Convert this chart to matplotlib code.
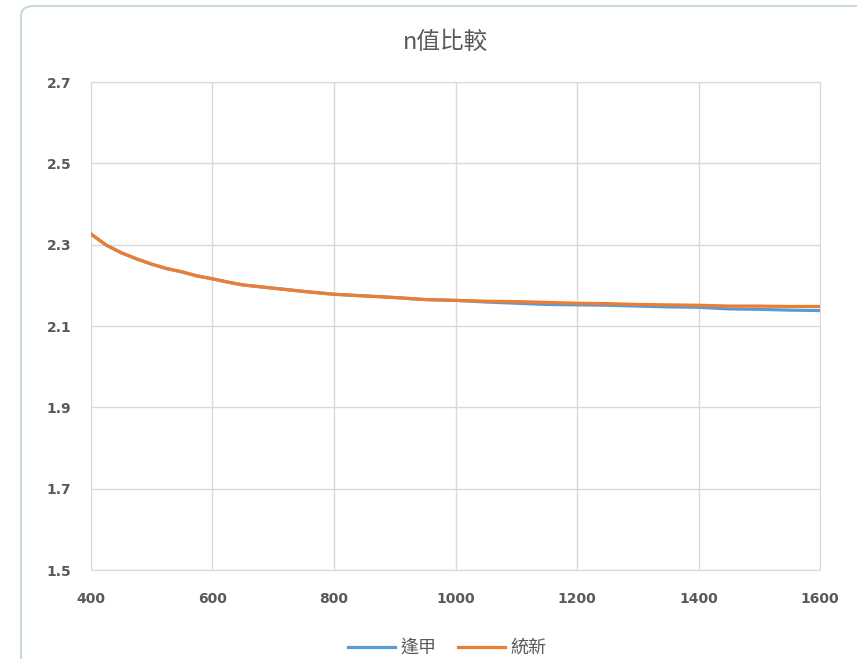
import matplotlib
matplotlib.use("Agg")
import matplotlib.pyplot as plt
from matplotlib.patches import FancyBboxPatch

plt.rcParams['font.family'] = ['Noto Sans CJK TC', 'DejaVu Sans']

# values
x_fengjia = [400, 425, 450, 475, 500, 525, 550, 575, 600, 625, 650, 700, 750, 800,
             850, 900, 950, 1000, 1050, 1100, 1150, 1200, 1250, 1300, 1350, 1400,
             1450, 1500, 1550, 1600]
n_fengjia = [2.326, 2.299, 2.280, 2.265, 2.252, 2.241, 2.233, 2.223, 2.216, 2.208,
             2.201, 2.193, 2.185, 2.178, 2.174, 2.170, 2.165, 2.163, 2.159, 2.156,
             2.153, 2.152, 2.151, 2.149, 2.147, 2.146, 2.142, 2.141, 2.139, 2.138]
x_tongxin = x_fengjia
n_tongxin = [2.326, 2.299, 2.280, 2.265, 2.252, 2.241, 2.233, 2.223, 2.216, 2.208,
             2.201, 2.193, 2.185, 2.178, 2.174, 2.170, 2.165, 2.163, 2.161, 2.160,
             2.158, 2.156, 2.155, 2.153, 2.152, 2.151, 2.149, 2.149, 2.148, 2.148]
labels = ["逢甲", "統新"]
xticks = [400, 600, 800, 1000, 1200, 1400, 1600]
yticks = [1.5, 1.7, 1.9, 2.1, 2.3, 2.5, 2.7]

BLUE, ORANGE, GREY = "#5b9bd5", "#ed7d31", "#595959"

fig = plt.figure(figsize=(8.57, 6.59), dpi=100)
# chart frame (Excel-like rounded border)
top = 1 - 6 / 659
frame = FancyBboxPatch((21 / 857, -0.05), 1.2, top + 0.05, transform=fig.transFigure,
                       boxstyle="round,pad=0,rounding_size=0.015", fc="white",
                       ec="#c9d9e0", lw=1.5, zorder=-5)
fig.patches.append(frame)

ax = fig.add_axes([91 / 857, 1 - 570 / 659, (820 - 91) / 857, (570 - 82) / 659], zorder=2)
ax.plot(x_fengjia, n_fengjia, color=BLUE, lw=2.3, label=labels[0], zorder=3)
ax.plot(x_tongxin, n_tongxin, color=ORANGE, lw=2.3, label=labels[1], zorder=4)

ax.set_xlim(400, 1600)
ax.set_ylim(1.5, 2.7)
ax.set_xticks(xticks)
ax.set_yticks(yticks)
ax.set_yticklabels([f"{v:.1f}" for v in yticks])
ax.grid(color="#d9d9d9", lw=1.0)
for s in ax.spines.values():
    s.set_color("#d9d9d9")
ax.tick_params(length=0, colors=GREY, labelsize=10)
ax.tick_params(axis="y", pad=14)
ax.tick_params(axis="x", pad=16)
for t in ax.get_xticklabels() + ax.get_yticklabels():
    t.set_fontfamily("DejaVu Sans")
    t.set_fontweight("bold")
    t.set_color(GREY)

fig.text(445 / 857, 1 - 42 / 659, "n值比較", ha="center", va="center",
         fontsize=17, color=GREY)
fig.legend(loc="center", bbox_to_anchor=(447 / 857, 1 - 648 / 659), ncol=2,
           frameon=False, fontsize=13, handlelength=2.6, columnspacing=1.2,
           handletextpad=0.3, labelcolor=GREY)

fig.savefig("out.png", dpi=100)
